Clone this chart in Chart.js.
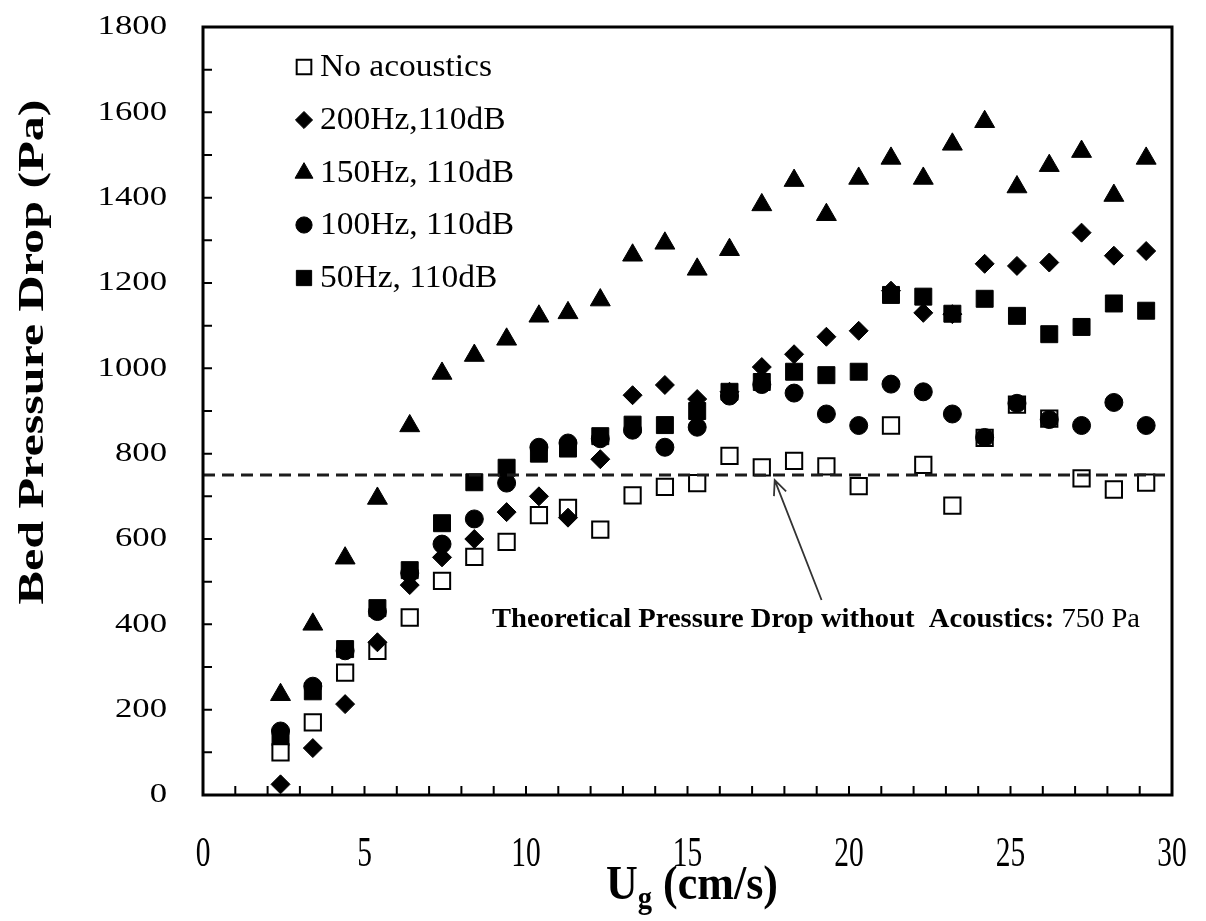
<!DOCTYPE html>
<html>
<head>
<meta charset="utf-8">
<title>Bed Pressure Drop vs Ug</title>
<script src="https://cdn.jsdelivr.net/npm/chart.js@4.4.1/dist/chart.umd.min.js"></script>
<style>
  html, body { margin: 0; padding: 0; background: #fff; }
  #wrap { width: 1206px; height: 921px; }
</style>
</head>
<body>
<div id="wrap"><canvas id="pressureChart" width="1206" height="921"></canvas></div>
<script>
// superficial gas velocity (cm/s), shared by every run
const gasVelocity = [2.4, 3.4, 4.4, 5.4, 6.4, 7.4, 8.4, 9.4, 10.4, 11.3, 12.3, 13.3, 14.3, 15.3,
  16.3, 17.3, 18.3, 19.3, 20.3, 21.3, 22.3, 23.2, 24.2, 25.2, 26.2, 27.2, 28.2, 29.2];

// bed pressure drop (Pa)
const noAcoustics = [100, 170, 287, 338, 416, 502, 558, 593, 656, 673, 622, 702, 722, 731,
  795, 768, 783, 770, 724, 866, 774, 678, 837, 915, 882, 742, 716, 732];
const hz200 = [25, 110, 213, 358, 492, 557, 600, 663, 700, 650, 787, 937, 961, 928,
  945, 1003, 1033, 1074, 1088, 1182, 1130, 1127, 1245, 1240, 1248, 1318, 1264, 1275];
const hz150 = [235, 400, 555, 695, 865, 988, 1030, 1068, 1122, 1130, 1160, 1265, 1293, 1232,
  1278, 1383, 1440, 1360, 1445, 1492, 1445, 1525, 1578, 1425, 1475, 1508, 1405, 1492];
const hz100 = [150, 255, 338, 430, 520, 588, 647, 731, 815, 825, 835, 855, 815, 862,
  935, 962, 942, 893, 866, 963, 945, 893, 838, 918, 880, 866, 920, 866];
const hz50 = [135, 243, 342, 438, 527, 637, 733, 767, 800, 812, 841, 868, 867, 900,
  945, 968, 992, 984, 992, 1172, 1168, 1128, 1163, 1123, 1080, 1097, 1152, 1135];

const theoreticalDrop = 750;

const xTickLabels = [0, 5, 10, 15, 20, 25, 30];
const yTickLabels = [0, 200, 400, 600, 800, 1000, 1200, 1400, 1600, 1800];

const SERIF = "'Liberation Serif', 'Times New Roman', serif";

function toPoints(ys) {
  return gasVelocity.map((x, i) => ({ x: x, y: ys[i] }));
}

function markerSet(label, ys, style, radius, fill, order) {
  return {
    label: label,
    data: toPoints(ys),
    pointStyle: style,
    pointRadius: radius,
    pointHoverRadius: radius,
    backgroundColor: fill,
    borderColor: '#000',
    borderWidth: fill === '#fff' ? 2 : 1,
    showLine: false,
    order: order,
    inLegend: true
  };
}

// draws text with a separate horizontal/vertical stretch
function stretchText(ctx, text, x, y, sx, sy) {
  ctx.save();
  ctx.translate(x, y);
  ctx.scale(sx, sy);
  ctx.fillText(text, 0, 0);
  ctx.restore();
}

const decorations = {
  id: 'decorations',
  afterDraw(chart) {
    const ctx = chart.ctx;
    const area = chart.chartArea;
    const xs = chart.scales.x;
    const ys = chart.scales.y;

    ctx.save();
    ctx.fillStyle = '#000';
    ctx.strokeStyle = '#000';

    // inward ticks: every 1 cm/s and every 100 Pa
    ctx.lineWidth = 2;
    ctx.beginPath();
    for (let v = 1; v < 30; v++) {
      const px = xs.getPixelForValue(v);
      ctx.moveTo(px, area.bottom);
      ctx.lineTo(px, area.bottom - 9);
    }
    for (let v = 100; v < 1800; v += 100) {
      const py = ys.getPixelForValue(v);
      ctx.moveTo(area.left, py);
      ctx.lineTo(area.left + 9, py);
    }
    ctx.stroke();

    // plot frame
    ctx.lineWidth = 3;
    ctx.strokeRect(area.left, area.top, area.right - area.left, area.bottom - area.top);

    // tick labels
    ctx.font = '31px ' + SERIF;
    ctx.textAlign = 'right';
    ctx.textBaseline = 'middle';
    yTickLabels.forEach(v => {
      stretchText(ctx, String(v), 167, ys.getPixelForValue(v), 1.12, 0.9);
    });
    ctx.textAlign = 'center';
    ctx.textBaseline = 'top';
    xTickLabels.forEach(v => {
      stretchText(ctx, String(v), xs.getPixelForValue(v), 834, 0.95, 1.35);
    });

    // y axis title
    ctx.save();
    ctx.translate(43, 352);
    ctx.rotate(-Math.PI / 2);
    ctx.font = 'bold 40px ' + SERIF;
    ctx.textAlign = 'center';
    ctx.textBaseline = 'alphabetic';
    const yTitle = 'Bed Pressure Drop (Pa)';
    const yw = ctx.measureText(yTitle).width;
    ctx.scale(505 / yw, 0.92);
    ctx.fillText(yTitle, 0, 0);
    ctx.restore();

    // x axis title: U with subscript g
    ctx.textAlign = 'left';
    ctx.textBaseline = 'alphabetic';
    const tx = 606, tBase = 899, tsx = 1.1;
    ctx.font = 'bold 40px ' + SERIF;
    const uW = ctx.measureText('U').width * tsx;
    stretchText(ctx, 'U', tx, tBase, tsx, 1.2);
    ctx.font = 'bold 26px ' + SERIF;
    const gW = ctx.measureText('g').width * tsx;
    stretchText(ctx, 'g', tx + uW, tBase + 9, tsx, 1.2);
    ctx.font = 'bold 40px ' + SERIF;
    stretchText(ctx, ' (cm/s)', tx + uW + gW, tBase, tsx, 1.2);

    // legend inside the plot
    const legendX = 304;
    const legendY = [67, 120, 173, 225, 278];
    const items = chart.data.datasets.filter(d => d.inLegend);
    ctx.font = '31px ' + SERIF;
    ctx.textBaseline = 'middle';
    items.forEach((d, i) => {
      ctx.fillStyle = d.backgroundColor;
      ctx.strokeStyle = '#000';
      ctx.lineWidth = d.borderWidth;
      Chart.helpers.drawPoint(ctx, {
        pointStyle: d.pointStyle,
        radius: d.pointRadius * 0.9,
        rotation: 0,
        borderWidth: d.borderWidth
      }, legendX, legendY[i]);
      ctx.fillStyle = '#000';
      stretchText(ctx, d.label, legendX + 16, legendY[i] + 1, 1.08, 1);
    });

    // arrow pointing at the theoretical line
    const tipX = xs.getPixelForValue(17.7), tipY = ys.getPixelForValue(738);
    const tailX = xs.getPixelForValue(19.15), tailY = ys.getPixelForValue(457);
    const ang = Math.atan2(tailY - tipY, tailX - tipX);
    ctx.strokeStyle = '#333';
    ctx.lineWidth = 1.8;
    ctx.beginPath();
    ctx.moveTo(tailX, tailY);
    ctx.lineTo(tipX, tipY);
    ctx.moveTo(tipX + 16 * Math.cos(ang - 0.42), tipY + 16 * Math.sin(ang - 0.42));
    ctx.lineTo(tipX, tipY);
    ctx.lineTo(tipX + 16 * Math.cos(ang + 0.42), tipY + 16 * Math.sin(ang + 0.42));
    ctx.stroke();

    // annotation label
    const boldPart = 'Theoretical Pressure Drop without  Acoustics: ';
    const plainPart = theoreticalDrop + ' Pa';
    ctx.fillStyle = '#000';
    ctx.textBaseline = 'alphabetic';
    ctx.font = 'bold 24px ' + SERIF;
    const bw = ctx.measureText(boldPart).width;
    ctx.font = '24px ' + SERIF;
    const pw = ctx.measureText(plainPart).width;
    const sx = 648 / (bw + pw);
    const ax = 492, ay = 627;
    ctx.font = 'bold 24px ' + SERIF;
    stretchText(ctx, boldPart, ax, ay, sx, 1.1);
    ctx.font = '24px ' + SERIF;
    stretchText(ctx, plainPart, ax + bw * sx, ay, sx, 1.1);

    ctx.restore();
  }
};

const ctx = document.getElementById('pressureChart').getContext('2d');

new Chart(ctx, {
  type: 'scatter',
  data: {
    datasets: [
      markerSet('No acoustics', noAcoustics, 'rect', 11.5, '#fff', 3),
      markerSet('200Hz,110dB', hz200, 'rectRot', 9.5, '#000', 0),
      markerSet('150Hz, 110dB', hz150, 'triangle', 11.5, '#000', 1),
      markerSet('100Hz, 110dB', hz100, 'circle', 9, '#000', 2),
      markerSet('50Hz, 110dB', hz50, 'rect', 12, '#000', 4),
      {
        label: 'Theoretical',
        data: [{ x: 0, y: theoreticalDrop }, { x: 30, y: theoreticalDrop }],
        showLine: true,
        borderColor: '#1c1c1c',
        borderWidth: 3,
        borderDash: [12, 7],
        pointRadius: 0,
        order: -1
      }
    ]
  },
  options: {
    responsive: false,
    animation: false,
    events: [],
    layout: { padding: { top: 27, right: 34, left: 0, bottom: 0 } },
    plugins: {
      legend: { display: false },
      tooltip: { enabled: false }
    },
    scales: {
      x: {
        type: 'linear',
        min: 0,
        max: 30,
        grid: { display: false },
        border: { display: false },
        ticks: { display: false },
        afterFit: (s) => { s.height = 126; }
      },
      y: {
        type: 'linear',
        min: 0,
        max: 1800,
        grid: { display: false },
        border: { display: false },
        ticks: { display: false },
        afterFit: (s) => { s.width = 203; }
      }
    }
  },
  plugins: [decorations]
});
</script>
</body>
</html>
